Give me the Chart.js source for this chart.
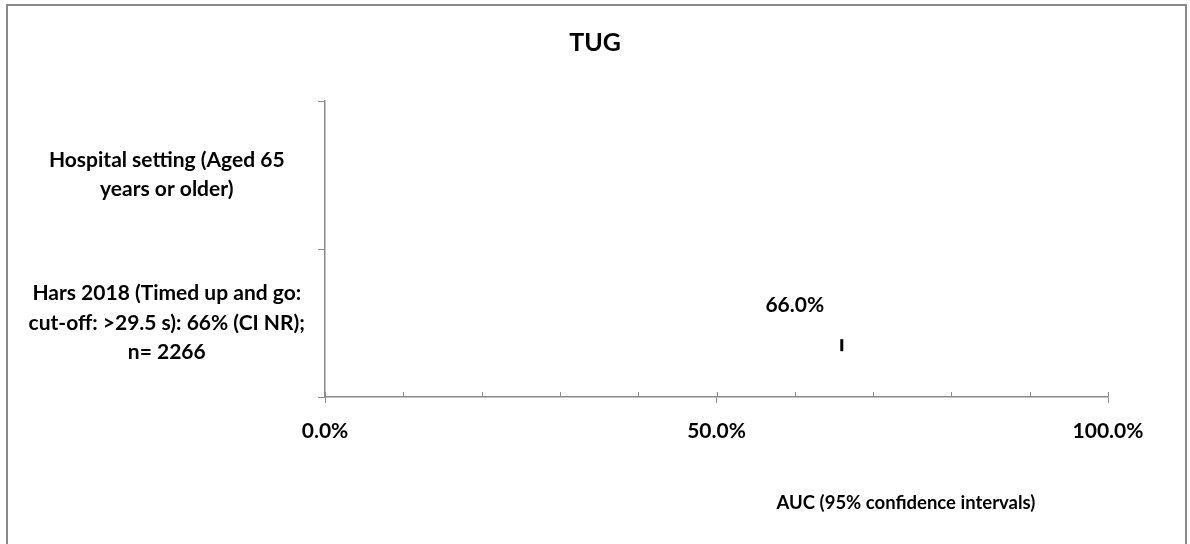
<!DOCTYPE html>
<html lang="en">
<head>
    <meta charset="UTF-8">
    <title>TUG</title>
    <script src="https://cdn.jsdelivr.net/npm/chart.js"></script>
    <style>
        * { margin: 0; padding: 0; box-sizing: border-box; }
        body { background: #ffffff; overflow: hidden; }
        #wrap { width: 1190px; height: 544px; position: relative; }
    </style>
</head>
<body>
    <div id="wrap"><canvas id="tugChart"></canvas></div>

    <script>
        // Rows of the forest plot, top to bottom (label lines as wrapped in the original)
        const rowLabels = [
            ['Hospital setting (Aged 65', 'years or older)'],
            ['Hars 2018 (Timed up and go:', 'cut-off: >29.5 s): 66% (CI NR);', 'n= 2266']
        ];
        const rowCenters = [1.5, 0.5];

        // Study estimates
        const aucValues = [0.66];
        const aucRowPos = [0.35];
        const aucLabels = ['66.0%'];

        const xMajorTicks = [0, 0.5, 1];

        const chartTitle = 'TUG';
        const xTitle = 'AUC (95% confidence intervals)';

        const fontFamily = 'Lato, "Open Sans", sans-serif';
        const axisGrey = '#8a8a8a';

        const points = aucValues.map((v, i) => ({ x: v, y: aucRowPos[i] }));

        const isMajor = (v) => xMajorTicks.some(m => Math.abs(m - v) < 1e-6);

        // Frame, title, inner tick marks, data labels and axis title
        const extras = {
            id: 'extras',
            beforeDraw(chart) {
                const c = chart.ctx;
                c.save();
                c.fillStyle = '#ffffff';
                c.fillRect(0, 0, chart.width, chart.height);
                c.strokeStyle = axisGrey;
                c.lineWidth = 2;
                c.strokeRect(7, 5, chart.width - 11, chart.height + 10);
                c.restore();
            },
            afterDraw(chart) {
                const c = chart.ctx;
                const xs = chart.scales.x;
                const area = chart.chartArea;
                c.save();
                // minor tick marks point up into the plot
                c.strokeStyle = axisGrey;
                c.lineWidth = 1;
                xs.ticks.forEach(t => {
                    const px = Math.round(xs.getPixelForValue(t.value)) + 0.5;
                    c.beginPath();
                    c.moveTo(px, area.bottom);
                    c.lineTo(px, area.bottom - 5);
                    c.stroke();
                });
                c.fillStyle = '#000000';
                c.textAlign = 'center';
                c.textBaseline = 'middle';
                // chart title
                c.font = 'bold 25px ' + fontFamily;
                c.fillText(chartTitle, chart.width / 2, 43);
                // value labels
                c.font = 'bold 21px ' + fontFamily;
                const meta = chart.getDatasetMeta(0);
                meta.data.forEach((pt, i) => {
                    c.fillText(aucLabels[i], pt.x - 47, pt.y - 40);
                });
                // axis title
                c.font = 'bold 18.5px ' + fontFamily;
                c.fillText(xTitle, area.left + 0.742 * (area.right - area.left), 503);
                c.restore();
            }
        };

        const ctx = document.getElementById('tugChart').getContext('2d');
        const tugChart = new Chart(ctx, {
            type: 'scatter',
            data: {
                datasets: [{
                    label: 'AUC',
                    data: points,
                    pointStyle: 'line',
                    rotation: 90,
                    radius: 6,
                    hoverRadius: 6,
                    borderWidth: 3,
                    borderColor: '#000000',
                    backgroundColor: '#000000'
                }]
            },
            options: {
                responsive: true,
                maintainAspectRatio: false,
                animation: false,
                layout: { padding: { left: 25, right: 82, top: 101, bottom: 0 } },
                plugins: {
                    legend: { display: false },
                    tooltip: { enabled: false },
                    title: { display: false }
                },
                scales: {
                    x: {
                        type: 'linear',
                        min: 0,
                        max: 1,
                        afterFit: (s) => { s.height = 147; },
                        border: { display: true, color: axisGrey, width: 1.5 },
                        grid: {
                            drawOnChartArea: false,
                            tickLength: 6,
                            tickColor: (c) => isMajor(c.tick.value) ? axisGrey : 'rgba(0,0,0,0)'
                        },
                        ticks: {
                            stepSize: 0.1,
                            autoSkip: false,
                            maxRotation: 0,
                            padding: 16,
                            color: '#000000',
                            font: { family: fontFamily, size: 21, weight: 'bold' },
                            callback: (v) => isMajor(v) ? (v * 100).toFixed(1) + '%' : ''
                        }
                    },
                    y: {
                        type: 'linear',
                        min: 0,
                        max: 2,
                        afterFit: (s) => { s.width = 300; },
                        border: { display: true, color: axisGrey, width: 1.5 },
                        grid: {
                            drawOnChartArea: false,
                            tickLength: 7,
                            tickColor: (c) => Number.isInteger(c.tick.value) ? axisGrey : 'rgba(0,0,0,0)'
                        },
                        ticks: {
                            stepSize: 0.5,
                            autoSkip: false,
                            crossAlign: 'center',
                            padding: 13,
                            color: '#000000',
                            font: { family: fontFamily, size: 21, weight: 'bold', lineHeight: 1.4 },
                            callback: (v) => {
                                const i = rowCenters.indexOf(v);
                                return i >= 0 ? rowLabels[i] : '';
                            }
                        }
                    }
                }
            },
            plugins: [extras]
        });
    </script>
</body>
</html>
